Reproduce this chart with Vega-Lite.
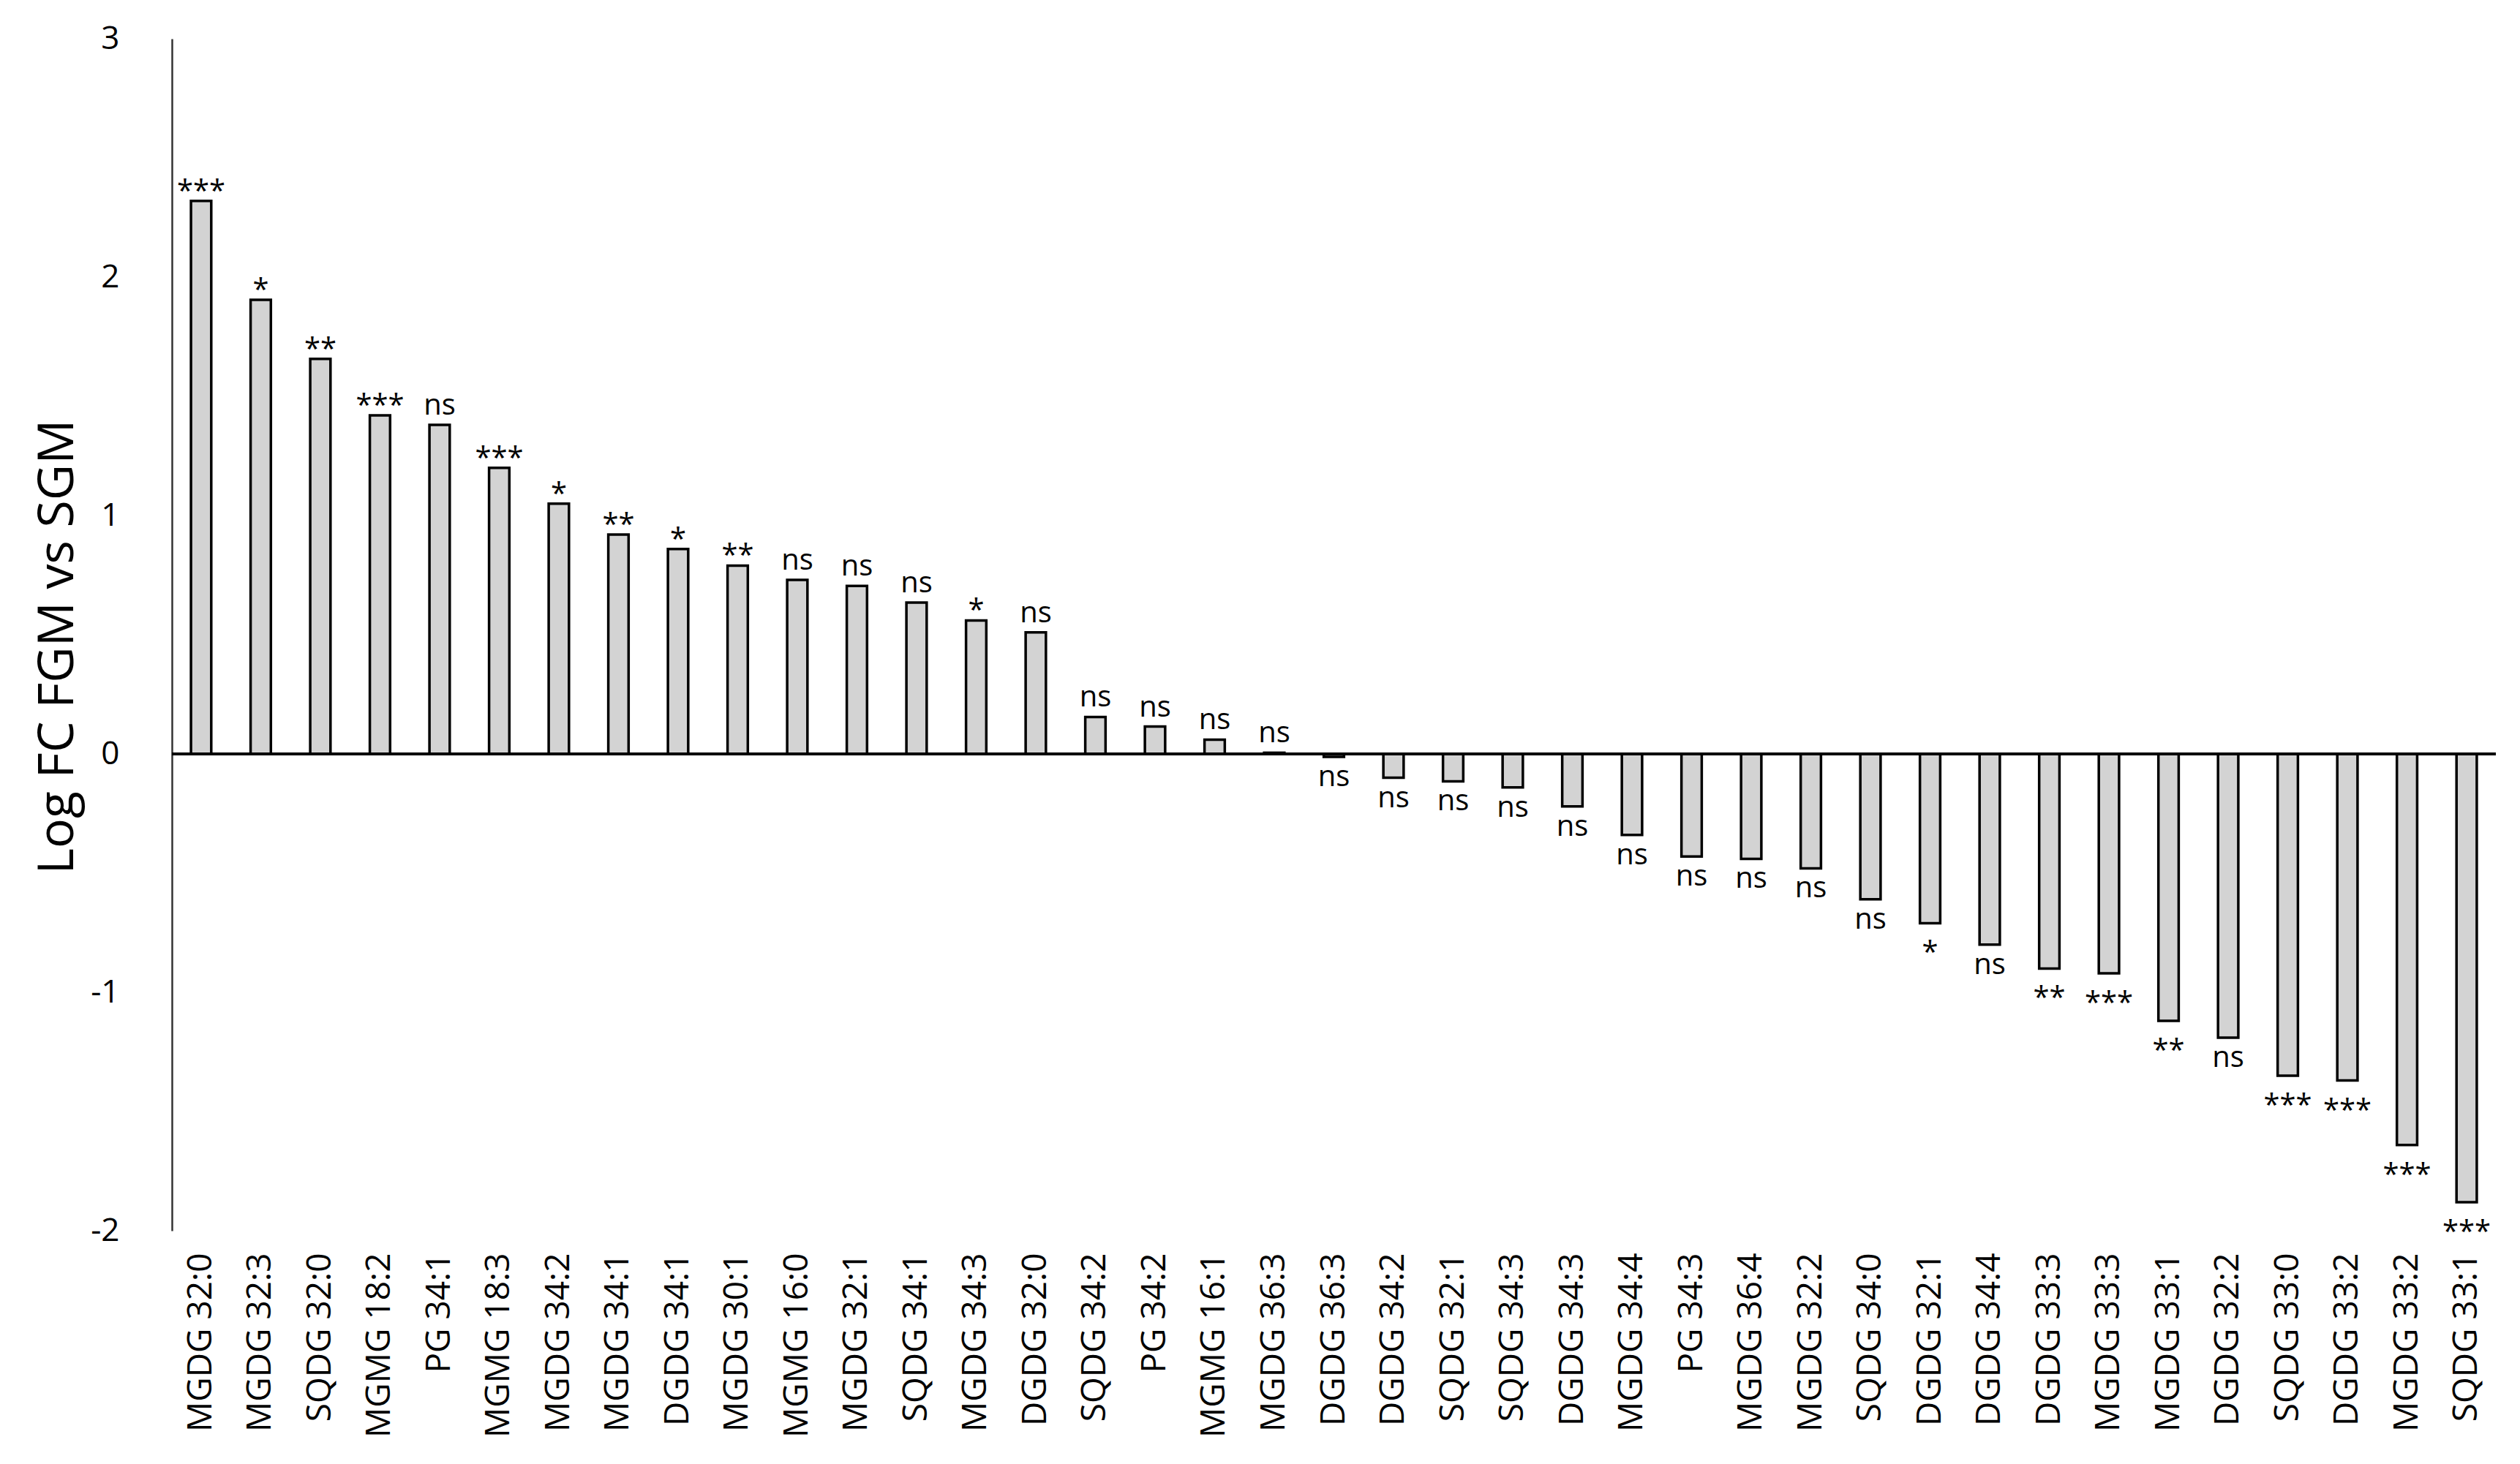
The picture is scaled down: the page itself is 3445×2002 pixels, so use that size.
{
  "$schema": "https://vega.github.io/schema/vega-lite/v6.json",
  "width": 3177,
  "height": 1630,
  "autosize": {"type": "none"},
  "padding": {"left": 235, "top": 53, "right": 33, "bottom": 319},
  "background": "white",
  "config": {"view": {"stroke": null}, "font": "Open Sans"},
  "data": {"values": [
    {"lipid": "MGDG 32:0", "fc": 2.32, "sig": "***"},
    {"lipid": "MGDG 32:3", "fc": 1.905, "sig": "*"},
    {"lipid": "SQDG 32:0", "fc": 1.657, "sig": "**"},
    {"lipid": "MGMG 18:2", "fc": 1.42, "sig": "***"},
    {"lipid": "PG 34:1", "fc": 1.38, "sig": "ns"},
    {"lipid": "MGMG 18:3", "fc": 1.2, "sig": "***"},
    {"lipid": "MGDG 34:2", "fc": 1.05, "sig": "*"},
    {"lipid": "MGDG 34:1", "fc": 0.92, "sig": "**"},
    {"lipid": "DGDG 34:1", "fc": 0.86, "sig": "*"},
    {"lipid": "MGDG 30:1", "fc": 0.79, "sig": "**"},
    {"lipid": "MGMG 16:0", "fc": 0.73, "sig": "ns"},
    {"lipid": "MGDG 32:1", "fc": 0.705, "sig": "ns"},
    {"lipid": "SQDG 34:1", "fc": 0.635, "sig": "ns"},
    {"lipid": "MGDG 34:3", "fc": 0.56, "sig": "*"},
    {"lipid": "DGDG 32:0", "fc": 0.51, "sig": "ns"},
    {"lipid": "SQDG 34:2", "fc": 0.155, "sig": "ns"},
    {"lipid": "PG 34:2", "fc": 0.115, "sig": "ns"},
    {"lipid": "MGMG 16:1", "fc": 0.06, "sig": "ns"},
    {"lipid": "MGDG 36:3", "fc": 0.005, "sig": "ns"},
    {"lipid": "DGDG 36:3", "fc": -0.012, "sig": "ns"},
    {"lipid": "DGDG 34:2", "fc": -0.1, "sig": "ns"},
    {"lipid": "SQDG 32:1", "fc": -0.115, "sig": "ns"},
    {"lipid": "SQDG 34:3", "fc": -0.14, "sig": "ns"},
    {"lipid": "DGDG 34:3", "fc": -0.22, "sig": "ns"},
    {"lipid": "MGDG 34:4", "fc": -0.34, "sig": "ns"},
    {"lipid": "PG 34:3", "fc": -0.43, "sig": "ns"},
    {"lipid": "MGDG 36:4", "fc": -0.44, "sig": "ns"},
    {"lipid": "MGDG 32:2", "fc": -0.48, "sig": "ns"},
    {"lipid": "SQDG 34:0", "fc": -0.61, "sig": "ns"},
    {"lipid": "DGDG 32:1", "fc": -0.71, "sig": "*"},
    {"lipid": "DGDG 34:4", "fc": -0.8, "sig": "ns"},
    {"lipid": "DGDG 33:3", "fc": -0.9, "sig": "**"},
    {"lipid": "MGDG 33:3", "fc": -0.92, "sig": "***"},
    {"lipid": "MGDG 33:1", "fc": -1.12, "sig": "**"},
    {"lipid": "DGDG 32:2", "fc": -1.19, "sig": "ns"},
    {"lipid": "SQDG 33:0", "fc": -1.35, "sig": "***"},
    {"lipid": "DGDG 33:2", "fc": -1.37, "sig": "***"},
    {"lipid": "MGDG 33:2", "fc": -1.64, "sig": "***"},
    {"lipid": "SQDG 33:1", "fc": -1.88, "sig": "***"}
  ]},
  "encoding": {
    "x": {
      "field": "lipid", "type": "nominal", "sort": null,
      "scale": {"paddingInner": 0.66, "paddingOuter": 0.32},
      "axis": {
        "title": null, "domain": false, "ticks": false, "tickSize": 0,
        "labelAngle": -90, "labelFontSize": 46, "labelPadding": 30,
        "labelLimit": 0, "labelColor": "#000000", "labelFont": "Open Sans"
      }
    },
    "y": {
      "field": "fc", "type": "quantitative",
      "scale": {"domain": [-2, 3], "nice": false, "zero": false},
      "axis": {
        "title": "Log FC FGM vs SGM", "values": [-2, -1, 0, 1, 2, 3],
        "labelExpr": "toString(datum.value)",
        "grid": false, "ticks": false, "tickSize": 0,
        "domainColor": "#333333", "domainWidth": 2.5,
        "labelFontSize": 44, "labelPadding": 72, "labelColor": "#000000",
        "labelFont": "Open Sans",
        "titleFontSize": 68, "titleFontWeight": "normal", "titleColor": "#000000",
        "titleFont": "Open Sans", "titleX": -122, "titleY": 831
      }
    }
  },
  "layer": [
    {"mark": {"type": "bar", "fill": "#d3d3d3", "stroke": "#000000", "strokeWidth": 3.5}},
    {"mark": {"type": "rule", "color": "#000000", "strokeWidth": 3}, "encoding": {"x": null, "y": {"datum": 0}}},
    {"transform": [{"filter": "datum.fc >= 0 && datum.sig == 'ns'"}],
     "mark": {"type": "text", "baseline": "middle", "dy": -26, "fontSize": 40, "color": "#000000"},
     "encoding": {"text": {"field": "sig"}}},
    {"transform": [{"filter": "datum.fc >= 0 && datum.sig != 'ns'"}],
     "mark": {"type": "text", "baseline": "middle", "dy": -12, "fontSize": 40, "color": "#000000"},
     "encoding": {"text": {"field": "sig"}}},
    {"transform": [{"filter": "datum.fc < 0 && datum.sig == 'ns'"}],
     "mark": {"type": "text", "baseline": "middle", "dy": 28, "fontSize": 40, "color": "#000000"},
     "encoding": {"text": {"field": "sig"}}},
    {"transform": [{"filter": "datum.fc < 0 && datum.sig != 'ns'"}],
     "mark": {"type": "text", "baseline": "middle", "dy": 42, "fontSize": 40, "color": "#000000"},
     "encoding": {"text": {"field": "sig"}}}
  ]
}
